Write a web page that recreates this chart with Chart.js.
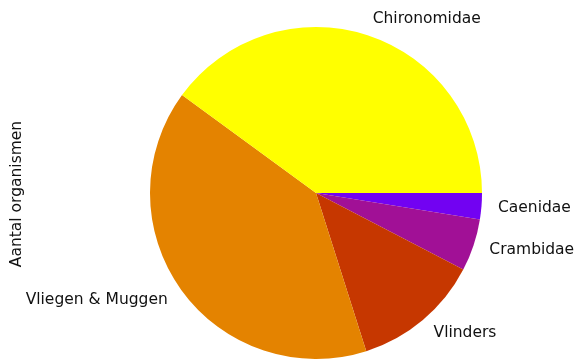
<!DOCTYPE html>
<html>
<head>
<meta charset="utf-8">
<script src="https://cdn.jsdelivr.net/npm/chart.js@4/dist/chart.umd.min.js"></script>
<style>
html,body{margin:0;padding:0;background:#fff;}
#wrap{width:576px;height:359px;}
</style>
</head>
<body>
<div id="wrap"><canvas id="c" width="576" height="359"></canvas></div>
<script>
// Data in matplotlib order (counter-clockwise from 3 o'clock)
const categories = ["Chironomidae", "Vliegen & Muggen", "Vlinders", "Crambidae", "Caenidae"];
const counts = [157, 157, 49, 20, 10];
const colours = ["#ffff00", "#e48300", "#c63700", "#a11096", "#7202f2"];
const yLabel = "Aantal organismen";

// Chart.js draws clockwise, so reverse order and start at 3 o'clock
const labelsCJ = categories.slice().reverse();
const valuesCJ = counts.slice().reverse();
const coloursCJ = colours.slice().reverse();

const FONT = '15.5px "DejaVu Sans"';

const labelPlugin = {
  id: 'outerLabels',
  afterDraw(chart) {
    const ctx = chart.ctx;
    const meta = chart.getDatasetMeta(0);
    ctx.save();
    ctx.font = FONT;
    ctx.fillStyle = '#111111';
    ctx.textBaseline = 'middle';
    meta.data.forEach((arc, i) => {
      const mid = (arc.startAngle + arc.endAngle) / 2;
      const r = arc.outerRadius * 1.1;
      const x = arc.x + r * Math.cos(mid);
      const y = arc.y + r * Math.sin(mid);
      ctx.textAlign = Math.cos(mid) >= 0 ? 'left' : 'right';
      ctx.fillText(chart.data.labels[i], x, y);
    });
    // y-axis label
    ctx.translate(17, 194);
    ctx.rotate(-Math.PI / 2);
    ctx.textAlign = 'center';
    ctx.fillText(yLabel, 0, 0);
    ctx.restore();
  }
};

new Chart(document.getElementById('c'), {
  type: 'pie',
  data: {
    labels: labelsCJ,
    datasets: [{
      data: valuesCJ,
      backgroundColor: coloursCJ,
      borderWidth: 0,
      hoverOffset: 0
    }]
  },
  options: {
    responsive: false,
    animation: false,
    rotation: 90,
    layout: { padding: { top: 27, bottom: 0, left: 150, right: 94 } },
    plugins: {
      legend: { display: false },
      tooltip: { enabled: false }
    }
  },
  plugins: [labelPlugin]
});
</script>
</body>
</html>
